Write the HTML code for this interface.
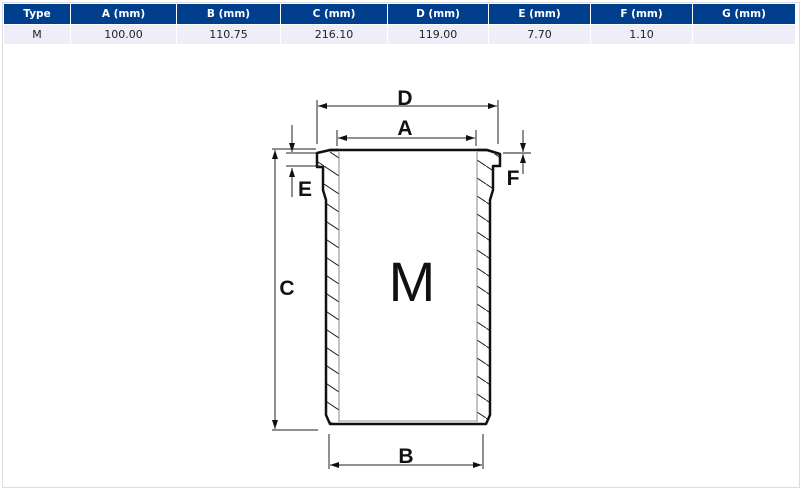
<!DOCTYPE html>
<html><head><meta charset="utf-8"><style>
body{margin:0;background:#fff;width:802px;height:488px;overflow:hidden;font-family:"Liberation Sans",sans-serif}
.wrap{position:absolute;left:2px;top:2px;width:796px;height:484px;border:1px solid #ddd}
table{position:absolute;left:4px;top:4px;border-collapse:collapse;font-family:"DejaVu Sans",sans-serif;font-size:11px}
th{background:#003f8e;color:#fff;font-weight:bold;height:20px;border-right:1px solid #fff;padding:0;text-align:center;font-size:10.5px}
td{background:#eeeef8;height:19px;border-right:1px solid #fff;border-top:1px solid #fff;padding:0;text-align:center;color:#222}
svg{position:absolute;left:0;top:0}
</style></head><body>
<div class="wrap"></div>
<table>
<tr><th style="width:66px">Type</th><th style="width:105px">A (mm)</th><th style="width:103px">B (mm)</th><th style="width:106px">C (mm)</th><th style="width:100px">D (mm)</th><th style="width:101px">E (mm)</th><th style="width:101px">F (mm)</th><th style="width:102px">G (mm)</th></tr>
<tr><td>M</td><td>100.00</td><td>110.75</td><td>216.10</td><td>119.00</td><td>7.70</td><td>1.10</td><td></td></tr>
</table>
<svg width="802" height="488" viewBox="0 0 802 488">
<defs>
<pattern id="h" width="27" height="18" patternUnits="userSpaceOnUse" patternTransform="translate(0,4)">
<line x1="-1" y1="-0.67" x2="28" y2="18.67" stroke="#222" stroke-width="1"/>
</pattern>
</defs>
<path d="M317,153 L330,153 L330,150 L339,150 L339,423 L330,423 L326,415 L326,200 L323,190 L323,167 L317,167Z" fill="url(#h)"/>
<path d="M500,154 L487,154 L487,150 L477,150 L477,423 L486,423 L490,415 L490,200 L493,190 L493,166 L500,166Z" fill="url(#h)"/>
<path d="M339,150 L477,150" stroke="#111" stroke-width="2" fill="none"/>
<path d="M330,150 L317,153 L317,167 L323,167 L323,190 L326,200 L326,415 L330,424 L486,424 L490,415 L490,200 L493,190 L493,166 L500,166 L500,154 L487,150 Z" stroke="#111" stroke-width="2.5" fill="none" stroke-linejoin="round"/>
<path d="M330,150 L339,150 M477,150 L487,150" stroke="#111" stroke-width="2.5"/>
<line x1="339" y1="152" x2="339" y2="422" stroke="#888" stroke-width="1"/>
<line x1="477" y1="152" x2="477" y2="422" stroke="#888" stroke-width="1"/>
<line x1="339" y1="421" x2="477" y2="421" stroke="#999" stroke-width="1"/>
<g stroke="#222" stroke-width="1" fill="none">
<line x1="317" y1="100" x2="317" y2="144"/><line x1="498" y1="100" x2="498" y2="144"/>
<line x1="318" y1="106" x2="497" y2="106"/>
<line x1="337" y1="130" x2="337" y2="146"/><line x1="476" y1="130" x2="476" y2="146"/>
<line x1="338" y1="138" x2="475" y2="138"/>
<line x1="272" y1="149" x2="316" y2="149"/><line x1="272" y1="430" x2="318" y2="430"/>
<line x1="275" y1="150" x2="275" y2="429"/>
<line x1="286" y1="153" x2="317" y2="153"/><line x1="286" y1="166" x2="320" y2="166"/>
<line x1="292" y1="125" x2="292" y2="152"/><line x1="292" y1="168" x2="292" y2="197"/>
<line x1="503" y1="153" x2="531" y2="153" stroke="#666" stroke-width="1.5"/>
<line x1="523" y1="130" x2="523" y2="152"/><line x1="523" y1="154" x2="523" y2="174"/>
<line x1="329" y1="434" x2="329" y2="469"/><line x1="483" y1="434" x2="483" y2="469"/>
<line x1="330" y1="465" x2="482" y2="465"/>
</g>
<g fill="#111">
<path d="M318,106 l9,-3 v6z M497,106 l-9,-3 v6z"/>
<path d="M338,138 l9,-3 v6z M475,138 l-9,-3 v6z"/>
<path d="M275,150 l-3,9 h6z M275,429 l-3,-9 h6z"/>
<path d="M292,152 l-3,-9 h6z M292,168 l-3,9 h6z"/>
<path d="M523,152 l-3,-9 h6z M523,154 l-3,9 h6z"/>
<path d="M330,465 l9,-3 v6z M482,465 l-9,-3 v6z"/>
</g>
<g font-family="Liberation Sans" font-weight="bold" font-size="21" fill="#111" text-anchor="middle">
<text x="405" y="105">D</text>
<text x="405" y="135">A</text>
<text x="287" y="295">C</text>
<text x="305" y="196">E</text>
<text x="513" y="185">F</text>
<text x="406" y="463">B</text>
</g>
<text x="412" y="301" font-family="Liberation Sans" font-size="56" fill="#111" text-anchor="middle">M</text>
</svg>
</body></html>
